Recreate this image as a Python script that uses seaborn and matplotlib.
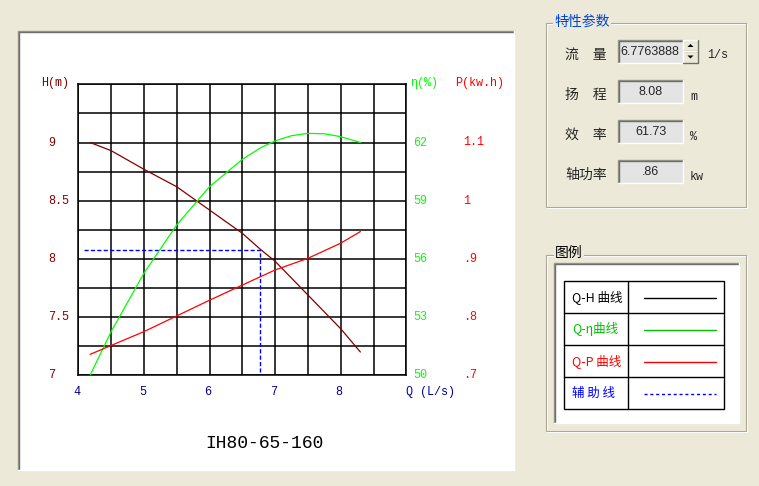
import numpy as np
import pandas as pd
import matplotlib
matplotlib.use("Agg")
import matplotlib.pyplot as plt
from matplotlib.patches import Rectangle, Polygon
from matplotlib.lines import Line2D
import seaborn as sns

# pump curve data
q_head = [4.18, 4.5, 5.0, 5.5, 6.0, 6.5, 6.78, 7.0, 7.5, 8.0, 8.3]
head = [9.00, 8.93, 8.77, 8.62, 8.42, 8.22, 8.08, 7.98, 7.69, 7.40, 7.20]
q_eff = [4.18, 4.5, 5.0, 5.5, 6.0, 6.5, 6.78, 7.0, 7.25, 7.5, 7.75, 8.0, 8.3]
eff = [50.0, 52.25, 55.26, 57.75, 59.72, 61.13, 61.73, 62.08, 62.35, 62.47, 62.45, 62.30, 62.0]
q_pow = [4.18, 5.0, 6.0, 6.5, 7.0, 7.5, 8.0, 8.3]
power = [0.736, 0.775, 0.829, 0.855, 0.881, 0.901, 0.927, 0.947]
aux_q = [4.08, 6.776, 6.776]
aux_h = [8.08, 8.08, 7.02]

x_ticks = [4, 5, 6, 7, 8]
h_ticks = [7, 7.5, 8, 8.5, 9]
h_labels = ["7", "7.5", "8", "8.5", "9"]
eff_ticks = [50, 53, 56, 59, 62]
p_ticks = [0.7, 0.8, 0.9, 1.0, 1.1]
p_labels = [".7", ".8", ".9", "1", "1.1"]

params = [("流\u3000量", "6.7763888", "1/s"), ("扬\u3000程", "8.08", "m"),
          ("效\u3000率", "61.73", "%"), ("轴功率", ".86", "kw")]
legend_rows = [("Q-H 曲线", "black", "black", "-"),
               ("Q-η曲线", "#00C000", "#00C000", "-"),
               ("Q-P 曲线", "red", "red", "-"),
               ("辅 助 线", "blue", "blue", "--")]
model = "IH80-65-160"

BG = "#ECE9D8"
W, H = 759, 486
MONO = ["Liberation Mono", "DejaVu Sans Mono"]
CJK = ["Noto Sans CJK SC", "DejaVu Sans"]

sns.set_style("white")
plt.rcParams["font.family"] = ["Liberation Mono", "DejaVu Sans"]

fig = plt.figure(figsize=(W / 100, H / 100), dpi=100, facecolor=BG)


def fx(x):
    return x / W


def fy(y):
    return 1 - y / H


def frect(x0, y0, x1, y1, **kw):
    r = Rectangle((fx(x0), fy(y1)), fx(x1) - fx(x0), fy(y0) - fy(y1),
                  transform=fig.transFigure, **kw)
    fig.add_artist(r)


def fline(xs, ys, **kw):
    fig.add_artist(Line2D([fx(v) for v in xs], [fy(v) for v in ys],
                          transform=fig.transFigure, **kw))


def sunken(x0, y0, x1, y1, face):
    frect(x0, y0, x1, y1, facecolor=face, edgecolor="none")
    fline([x0, x0, x1], [y1, y0, y0], color="#9C9A8C", lw=1)
    fline([x0 + 1, x0 + 1, x1 - 1], [y1 - 1, y0 + 1, y0 + 1], color="#6E6E6E", lw=1)
    fline([x0, x1, x1], [y1, y1, y0], color="white", lw=1)


def groupbox(x0, y0, x1, y1):
    frect(x0 + 1, y0 + 1, x1 + 1, y1 + 1, facecolor="none", edgecolor="white", lw=0.8)
    frect(x0, y0, x1, y1, facecolor="none", edgecolor="#ACA899", lw=0.8)


# white chart panel
sunken(18, 31, 514, 470, "white")

# main chart
ax = fig.add_axes([fx(78.3), fy(375.3), fx(406.3) - fx(78.3), fy(84.3) - fy(375.3)])
ax.set_zorder(10)
ax.set_facecolor("white")
sns.lineplot(x=q_head, y=head, ax=ax, color="#800000", lw=0.9, estimator=None, sort=False)
ax.plot(aux_q, aux_h, color="blue", lw=1, linestyle=(0, (3, 1.6)))
ax.set_xlim(4, 9)
ax.set_ylim(7, 9.5)
ax.set_xticks(np.arange(4, 9.01, 0.5))
ax.set_yticks(np.arange(7, 9.51, 0.25))
ax.grid(True, color="black", lw=1.1)
ax.set_axisbelow(True)
ax.tick_params(length=0, labelbottom=False, labelleft=False)
for s in ax.spines.values():
    s.set_color("black")
    s.set_linewidth(1.1)
ax.set_xlabel("")
ax.set_ylabel("")

ax2 = ax.twinx()
ax2.set_zorder(11)
sns.lineplot(x=q_eff, y=eff, ax=ax2, color="#00FF00", lw=0.9, estimator=None, sort=False)
ax2.set_ylim(50, 65)
ax3 = ax.twinx()
ax3.set_zorder(12)
sns.lineplot(x=q_pow, y=power, ax=ax3, color="#FF0000", lw=0.9, estimator=None, sort=False)
ax3.set_ylim(0.7, 1.2)
for a in (ax2, ax3):
    a.set_yticks([])
    a.set_ylabel("")
    a.grid(False)
    a.patch.set_visible(False)
    for s in a.spines.values():
        s.set_visible(False)

# axis labels as text, placed through the axes scales
ytr = ax.get_yaxis_transform()
for v, lab in zip(h_ticks, h_labels):
    ax.text(-0.092, v, lab, transform=ytr, color="#800000", fontsize=8.5,
            family=MONO, ha="left", va="center")
for v in eff_ticks:
    ax2.text(1.02, v, str(v), transform=ax2.get_yaxis_transform(), color="#00FF00",
             fontsize=8.5, family=MONO, ha="left", va="center")
for v, lab in zip(p_ticks, p_labels):
    ax3.text(1.172, v, lab, transform=ax3.get_yaxis_transform(), color="#FF0000",
             fontsize=8.5, family=MONO, ha="left", va="center")
xtr = ax.get_xaxis_transform()
for v in x_ticks:
    ax.text(v + 0.03, -0.058, str(v), transform=xtr, color="#000090", fontsize=8.5,
            family=MONO, ha="right", va="center")
ax.text(1.0, -0.058, "Q (L/s)", transform=ax.transAxes, color="#000090", fontsize=8.5,
        family=MONO, ha="left", va="center")
ax.text(-0.113, 1.003, "H(m)", transform=ax.transAxes, color="#800000", fontsize=8.5,
        family=MONO, ha="left", va="center")
ax.text(1.011, 1.003, "η(%)", transform=ax.transAxes, color="#00FF00", fontsize=8.5,
        family=MONO, ha="left", va="center")
ax.text(1.148, 1.003, "P(kw.h)", transform=ax.transAxes, color="#FF0000", fontsize=8.5,
        family=MONO, ha="left", va="center")
fig.text(fx(264), fy(444), model, color="black", fontsize=13, family=MONO,
         ha="center", va="center")

# parameter group
groupbox(546, 23, 746, 207)
fig.text(fx(554), fy(22), "特性参数", color="#0046D5", fontsize=10, family=CJK,
         ha="left", va="center",
         bbox=dict(facecolor=BG, edgecolor="none", pad=1))
row_y = [51, 91, 131, 171]
for (lab, val, unit), yc in zip(params, row_y):
    fig.text(fx(565), fy(yc + 4), lab, fontsize=10, family=CJK, ha="left", va="center")
    sunken(618, yc - 11, 683, yc + 12, "#E4E4E4")
    if val.startswith("6.77"):
        fig.text(fx(620), fy(yc + 1), val, fontsize=9, family=["Liberation Sans"],
                 ha="left", va="center")
    else:
        fig.text(fx(650.5), fy(yc + 1), val, fontsize=9, family=["Liberation Sans"],
                 ha="center", va="center")
    fig.text(fx(690 if unit != "1/s" else 707), fy(yc + 6 if unit != "1/s" else yc + 4),
             unit, fontsize=8.5, family=MONO, ha="left", va="center")

# spinner on the flow box
for y0, y1, up in [(40, 51, True), (51, 63, False)]:
    frect(683, y0, 698, y1, facecolor=BG, edgecolor="none")
    fline([683, 683, 698], [y1, y0, y0], color="white", lw=1)
    fline([683, 698, 698], [y1, y1, y0], color="#716F64", lw=1)
    cx, cy = 690.5, (y0 + y1) / 2
    if up:
        pts = [(cx - 3, cy + 1.5), (cx + 3, cy + 1.5), (cx, cy - 1.5)]
    else:
        pts = [(cx - 3, cy - 1.5), (cx + 3, cy - 1.5), (cx, cy + 1.5)]
    fig.add_artist(Polygon([(fx(a), fy(b)) for a, b in pts], closed=True,
                           transform=fig.transFigure, facecolor="black", edgecolor="none"))

# legend group
groupbox(546, 255, 746, 431)
fig.text(fx(555), fy(253), "图例", color="black", fontsize=10, family=CJK,
         ha="left", va="center", bbox=dict(facecolor=BG, edgecolor="none", pad=1))
sunken(554, 263, 739, 423, "white")
frect(564, 281, 724, 409, facecolor="none", edgecolor="black", lw=1)
fline([628, 628], [281, 409], color="black", lw=1)
for yl in [313, 345, 377]:
    fline([564, 724], [yl, yl], color="black", lw=1)
for i, (lab, tcol, lcol, ls) in enumerate(legend_rows):
    yc = 297 + 32 * i
    fig.text(fx(572), fy(yc), lab, color=tcol, fontsize=9, family=CJK,
             ha="left", va="center")
    fline([644, 716], [yc + 1, yc + 1], color=lcol, lw=1,
          linestyle="-" if ls == "-" else (0, (2.2, 2)))

fig.savefig("out.png", dpi=100, facecolor=BG)
